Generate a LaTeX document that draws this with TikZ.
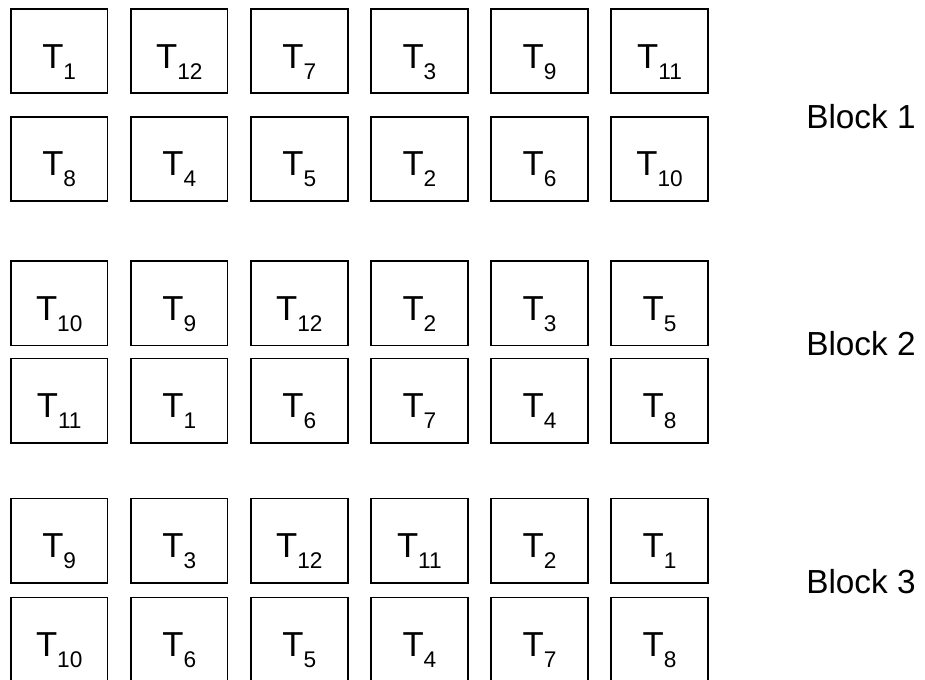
\documentclass[tikz,border=0pt]{standalone}
\usepackage{fontspec}
\setmainfont{Liberation Sans}
\usetikzlibrary{positioning}

\newcommand{\Tsub}[1]{T\raisebox{-8.25pt}{\fontsize{17}{17}\selectfont #1}}

\begin{document}
\begin{tikzpicture}[x=0.75pt, y=-0.75pt, node distance=17.55pt,
  plot/.style={draw, line width=1.3pt, outer sep=0pt, minimum width=72.5pt, minimum height=63.2pt,
    font=\fontsize{26}{28}\selectfont, text height=25.5pt, text depth=0pt, inner sep=0pt},
  blocklabel/.style={anchor=base west, inner sep=0pt, font=\fontsize{25}{28}\selectfont}]
  \useasboundingbox (0,0) rectangle (925,679);
  % Block 1
  \node[plot] (a1) at (59.2,51.2) {\Tsub{1}};
  \node[plot, right=of a1] (a2) {\Tsub{12}};
  \node[plot, right=of a2] (a3) {\Tsub{7}};
  \node[plot, right=of a3] (a4) {\Tsub{3}};
  \node[plot, right=of a4] (a5) {\Tsub{9}};
  \node[plot, right=of a5] (a6) {\Tsub{11}};
  \node[plot] (b1) at (59.2,158.8) {\Tsub{8}};
  \node[plot, right=of b1] (b2) {\Tsub{4}};
  \node[plot, right=of b2] (b3) {\Tsub{5}};
  \node[plot, right=of b3] (b4) {\Tsub{2}};
  \node[plot, right=of b4] (b5) {\Tsub{6}};
  \node[plot, right=of b5] (b6) {\Tsub{10}};
  \node[blocklabel] (blk1) at (806,128) {Block 1};
  % Block 2
  \node[plot] (c1) at (59.2,303.3) {\Tsub{10}};
  \node[plot, right=of c1] (c2) {\Tsub{9}};
  \node[plot, right=of c2] (c3) {\Tsub{12}};
  \node[plot, right=of c3] (c4) {\Tsub{2}};
  \node[plot, right=of c4] (c5) {\Tsub{3}};
  \node[plot, right=of c5] (c6) {\Tsub{5}};
  \node[plot] (d1) at (59.2,400.5) {\Tsub{11}};
  \node[plot, right=of d1] (d2) {\Tsub{1}};
  \node[plot, right=of d2] (d3) {\Tsub{6}};
  \node[plot, right=of d3] (d4) {\Tsub{7}};
  \node[plot, right=of d4] (d5) {\Tsub{4}};
  \node[plot, right=of d5] (d6) {\Tsub{8}};
  \node[blocklabel] (blk2) at (806,355) {Block 2};
  % Block 3
  \node[plot] (e1) at (59.2,540.5) {\Tsub{9}};
  \node[plot, right=of e1] (e2) {\Tsub{3}};
  \node[plot, right=of e2] (e3) {\Tsub{12}};
  \node[plot, right=of e3] (e4) {\Tsub{11}};
  \node[plot, right=of e4] (e5) {\Tsub{2}};
  \node[plot, right=of e5] (e6) {\Tsub{1}};
  \node[plot] (f1) at (59.2,639.5) {\Tsub{10}};
  \node[plot, right=of f1] (f2) {\Tsub{6}};
  \node[plot, right=of f2] (f3) {\Tsub{5}};
  \node[plot, right=of f3] (f4) {\Tsub{4}};
  \node[plot, right=of f4] (f5) {\Tsub{7}};
  \node[plot, right=of f5] (f6) {\Tsub{8}};
  \node[blocklabel] (blk3) at (806,593) {Block 3};
\end{tikzpicture}
\end{document}
